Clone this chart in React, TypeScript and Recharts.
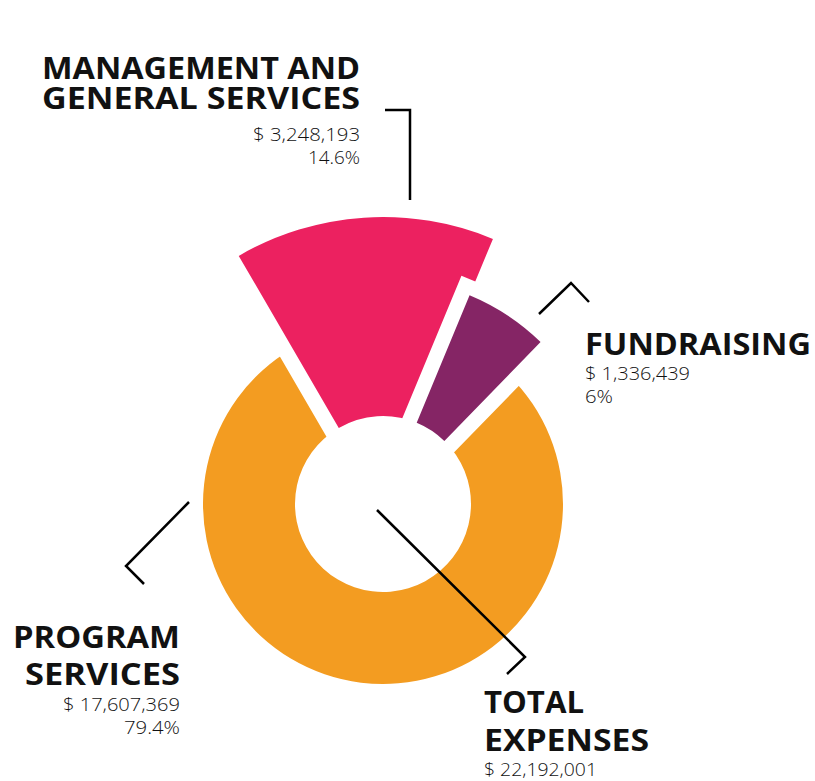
import { PieChart, Pie, Cell } from 'recharts';

const categories = ['FUNDRAISING', 'MANAGEMENT AND GENERAL SERVICES', 'PROGRAM SERVICES'];
const amounts = [1336439, 3248193, 17607369];
const percentLabels = ['6%', '14.6%', '79.4%'];
const totalAmount = 22192001;

const COLORS = ['#852565', '#EC2160', '#F39C21'];
const OUTER = [226, 287, 180];

const W = 815;
const H = 781;
const CX = 383;
const CY = 504;
const INNER = 88;
const GAP = 15;

const pieData = categories.map((name, i) => ({ name, value: amounts[i] }));
const money = (v: number) => '$ ' + v.toLocaleString('en-US');

// one Pie per visible slice; the other slices are transparent so the angles line up
function layer(idx: number, outline: boolean) {
  return (
    <Pie
      key={`${idx}-${outline ? 'o' : 'f'}`}
      data={pieData}
      dataKey="value"
      nameKey="name"
      cx={CX}
      cy={CY}
      innerRadius={INNER}
      outerRadius={OUTER[idx]}
      startAngle={45.8}
      endAngle={405.8}
      isAnimationActive={false}
      stroke="none"
    >
      {pieData.map((_, i) => (
        <Cell
          key={i}
          fill={i === idx ? (outline ? '#ffffff' : COLORS[idx]) : 'transparent'}
          stroke={i === idx && outline ? '#ffffff' : 'none'}
          strokeWidth={i === idx && outline ? GAP * 2 : 0}
        />
      ))}
    </Pie>
  );
}

const title = { fontFamily: "'Open Sans', sans-serif", fontWeight: 700, fontSize: 30, fill: '#111' };
const value = { fontFamily: "'Open Sans', sans-serif", fontWeight: 300, fontSize: 18, fill: '#111' };

export default function App() {
  return (
    <div style={{ position: 'absolute', left: 0, top: 0, width: W, height: H, background: '#fff' }}>
      <PieChart
        width={W}
        height={H}
        margin={{ top: 0, right: 0, bottom: 0, left: 0 }}
        style={{ position: 'absolute', left: 0, top: 0 }}
      >
        {layer(2, false)}
        {layer(1, true)}
        {layer(1, false)}
        {layer(0, true)}
        {layer(0, false)}
      </PieChart>

      <svg width={W} height={H} style={{ position: 'absolute', left: 0, top: 0, pointerEvents: 'none' }}>
        <g fill="none" stroke="#000" strokeWidth={2.5}>
          <path d="M385,110 H410 V200" />
          <path d="M539,314 L571,283 L589,302" />
          <path d="M189,502 L126,566 L144,584" />
          <path d="M377,510 L525,657 L507,674" />
        </g>

        <text x={360} y={79} textAnchor="end" textLength={318} lengthAdjust="spacingAndGlyphs" style={title}>MANAGEMENT AND</text>
        <text x={360} y={109} textAnchor="end" textLength={318} lengthAdjust="spacingAndGlyphs" style={title}>GENERAL SERVICES</text>
        <text x={360} y={141} textAnchor="end" textLength={107} lengthAdjust="spacingAndGlyphs" style={value}>{money(amounts[1])}</text>
        <text x={360} y={164} textAnchor="end" textLength={52} lengthAdjust="spacingAndGlyphs" style={value}>{percentLabels[1]}</text>

        <text x={585} y={355} textLength={226} lengthAdjust="spacingAndGlyphs" style={title}>FUNDRAISING</text>
        <text x={585} y={380} textLength={105} lengthAdjust="spacingAndGlyphs" style={value}>{money(amounts[0])}</text>
        <text x={585} y={403} textLength={28} lengthAdjust="spacingAndGlyphs" style={value}>{percentLabels[0]}</text>

        <text x={180} y={648} textAnchor="end" textLength={167} lengthAdjust="spacingAndGlyphs" style={title}>PROGRAM</text>
        <text x={180} y={685} textAnchor="end" textLength={155} lengthAdjust="spacingAndGlyphs" style={title}>SERVICES</text>
        <text x={180} y={711} textAnchor="end" textLength={117} lengthAdjust="spacingAndGlyphs" style={value}>{money(amounts[2])}</text>
        <text x={180} y={734} textAnchor="end" textLength={56} lengthAdjust="spacingAndGlyphs" style={value}>{percentLabels[2]}</text>

        <text x={484} y={713} textLength={100} lengthAdjust="spacingAndGlyphs" style={title}>TOTAL</text>
        <text x={484} y={751} textLength={165} lengthAdjust="spacingAndGlyphs" style={title}>EXPENSES</text>
        <text x={484} y={776} textLength={113} lengthAdjust="spacingAndGlyphs" style={value}>{money(totalAmount)}</text>
      </svg>
    </div>
  );
}
